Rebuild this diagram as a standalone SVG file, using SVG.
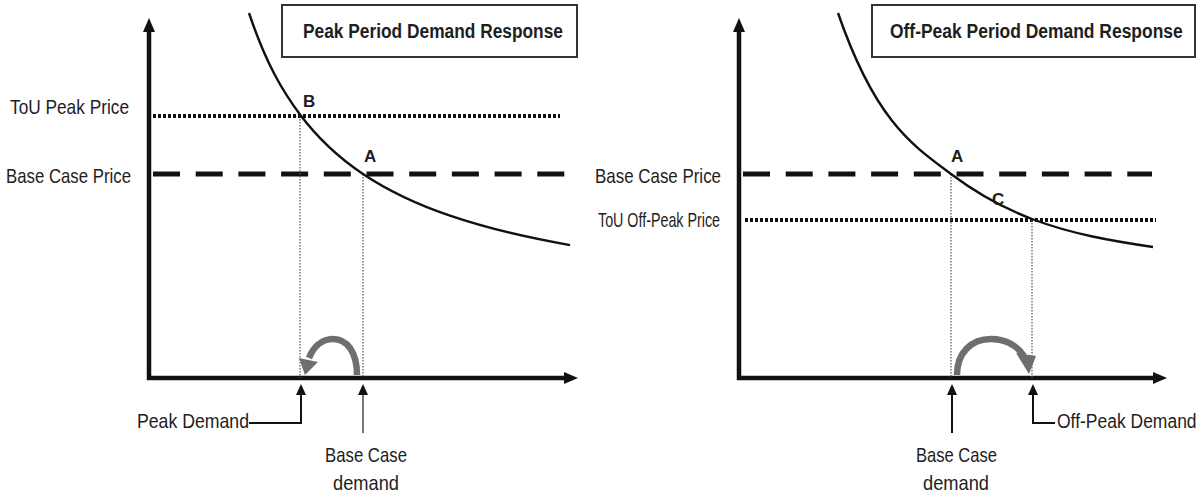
<svg xmlns="http://www.w3.org/2000/svg" width="1202" height="495" viewBox="0 0 1202 495">
<style>
  .bg{fill:#ffffff}
  .lbl{font-family:"Liberation Sans",Arial,sans-serif;font-size:21px;fill:#1e1e1e}
  .ttl{font-family:"Liberation Sans",Arial,sans-serif;font-size:21px;font-weight:bold;fill:#1e1e1e}
  .pt{font-family:"Liberation Sans",Arial,sans-serif;font-size:17px;font-weight:bold;fill:#1e1e1e}
  .box{fill:#ffffff;stroke:#333;stroke-width:2}
  .axis{stroke:#111;stroke-width:4.5;fill:none}
  .dash{stroke:#111;stroke-width:5;stroke-dasharray:27 15.7;fill:none}
  .dot{stroke:#111;stroke-width:4;stroke-dasharray:3 2;fill:none}
  .guide{stroke:#555;stroke-width:1.2;stroke-dasharray:1.5 1.5;fill:none}
  .curve{stroke:#111;stroke-width:2.4;fill:none}
  .pointer{stroke:#111;stroke-width:2;fill:none}
  .pointer-g{stroke:#777;stroke-width:2;fill:none}
  .shift{stroke:#6e6e6e;stroke-width:6.5;fill:none}
  .shifthead{fill:#6e6e6e}
</style>
<defs>
  <marker id="axhead" viewBox="0 0 14 12" refX="0" refY="6" markerWidth="14" markerHeight="12" markerUnits="userSpaceOnUse" orient="auto">
    <path d="M0,0 L14,6 L0,12 z" fill="#111"/>
  </marker>
  <marker id="smhead" viewBox="0 0 11 10" refX="0" refY="5" markerWidth="11" markerHeight="10" markerUnits="userSpaceOnUse" orient="auto">
    <path d="M0,0 L11,5 L0,10 z" fill="#111"/>
  </marker>
</defs>
<rect class="bg" x="0" y="0" width="1202" height="495"/>

<!-- LEFT PANEL -->
<g id="left-axes">
  <line class="axis" x1="149" y1="380" x2="149" y2="32" marker-end="url(#axhead)"/>
  <line class="axis" x1="147" y1="378" x2="564" y2="378" marker-end="url(#axhead)"/>
</g>
<g id="left-price-lines">
  <line class="dot" x1="153" y1="116" x2="560" y2="116"/>
  <line class="dash" x1="153" y1="174" x2="565" y2="174"/>
  <line class="guide" x1="300" y1="116" x2="300" y2="378"/>
  <line class="guide" x1="363" y1="174" x2="363" y2="378"/>
</g>
<g id="left-demand-curve">
  <path class="curve" d="M249,13 C266,63.6 283,91.9 300,114.5 C321,142.5 342,159.9 363,174 C392,193.4 421,205.8 450,215.7 C490,229.4 530,238.1 570,245.1"/>
</g>
<g id="left-title">
  <rect class="box" x="282" y="5" width="295" height="52"/>
  <text class="ttl" transform="translate(303,38) scale(0.825,1)">Peak Period Demand Response</text>
</g>
<g id="left-labels">
  <text class="lbl" x="10" y="114" textLength="119" lengthAdjust="spacingAndGlyphs">ToU Peak Price</text>
  <text class="lbl" x="6" y="183" textLength="125" lengthAdjust="spacingAndGlyphs">Base Case Price</text>
  <text class="pt" x="303" y="107">B</text>
  <text class="pt" x="364" y="162">A</text>
  <text class="lbl" x="137" y="428" textLength="112" lengthAdjust="spacingAndGlyphs">Peak Demand</text>
  <text class="lbl" x="325" y="462" textLength="82" lengthAdjust="spacingAndGlyphs">Base Case</text>
  <text class="lbl" x="333" y="490" textLength="66" lengthAdjust="spacingAndGlyphs">demand</text>
</g>

<!-- RIGHT PANEL -->
<g id="right-axes">
  <line class="axis" x1="739" y1="380" x2="739" y2="32" marker-end="url(#axhead)"/>
  <line class="axis" x1="737" y1="378" x2="1153" y2="378" marker-end="url(#axhead)"/>
</g>
<g id="right-price-lines">
  <line class="dash" x1="743" y1="174" x2="1152" y2="174"/>
  <line class="dot" x1="745" y1="220" x2="1156" y2="220"/>
  <line class="guide" x1="951" y1="174" x2="951" y2="378"/>
  <line class="guide" x1="1032" y1="220" x2="1032" y2="378"/>
</g>
<g id="right-demand-curve">
  <path class="curve" d="M838,13 C875.7,122.2 913.3,145.8 951,174 C978,194.3 1005,208.7 1032,219 C1072.3,234.3 1112.7,241 1153,247"/>
</g>
<g id="right-title">
  <rect class="box" x="872" y="5" width="323" height="52"/>
  <text class="ttl" transform="translate(890,38) scale(0.831,1)">Off-Peak Period Demand Response</text>
</g>
<g id="right-labels">
  <text class="lbl" x="595" y="183" textLength="126" lengthAdjust="spacingAndGlyphs">Base Case Price</text>
  <text class="lbl" x="598" y="227" textLength="122" lengthAdjust="spacingAndGlyphs">ToU Off-Peak Price</text>
  <text class="pt" x="951" y="162">A</text>
  <text class="pt" x="992" y="205">C</text>
  <text class="lbl" x="916" y="462" textLength="81" lengthAdjust="spacingAndGlyphs">Base Case</text>
  <text class="lbl" x="923" y="490" textLength="66" lengthAdjust="spacingAndGlyphs">demand</text>
  <text class="lbl" transform="translate(1057,428) scale(0.833,1)">Off-Peak Demand</text>
</g>

<!-- CONNECTORS -->
<g id="connectors">
  <polyline class="pointer" points="249,423 301,423 301,395" marker-end="url(#smhead)"/>
  <line class="pointer-g" x1="363" y1="433" x2="363" y2="395" marker-end="url(#smhead)"/>
  <line class="pointer" x1="952" y1="433" x2="952" y2="395" marker-end="url(#smhead)"/>
  <polyline class="pointer" points="1055,423 1033,423 1033,395" marker-end="url(#smhead)"/>

  <path class="shift" d="M357,375 C357,352 347,339 333,339 C321,339 313,348 309,358"/>
  <polygon class="shifthead" points="299,358 318,362 305,375"/>

  <path class="shift" d="M957,375 C957,352 972,339 991,339 C1007,339 1018,347 1024,356"/>
  <polygon class="shifthead" points="1016,353 1036,356 1029,374"/>
</g>
</svg>
